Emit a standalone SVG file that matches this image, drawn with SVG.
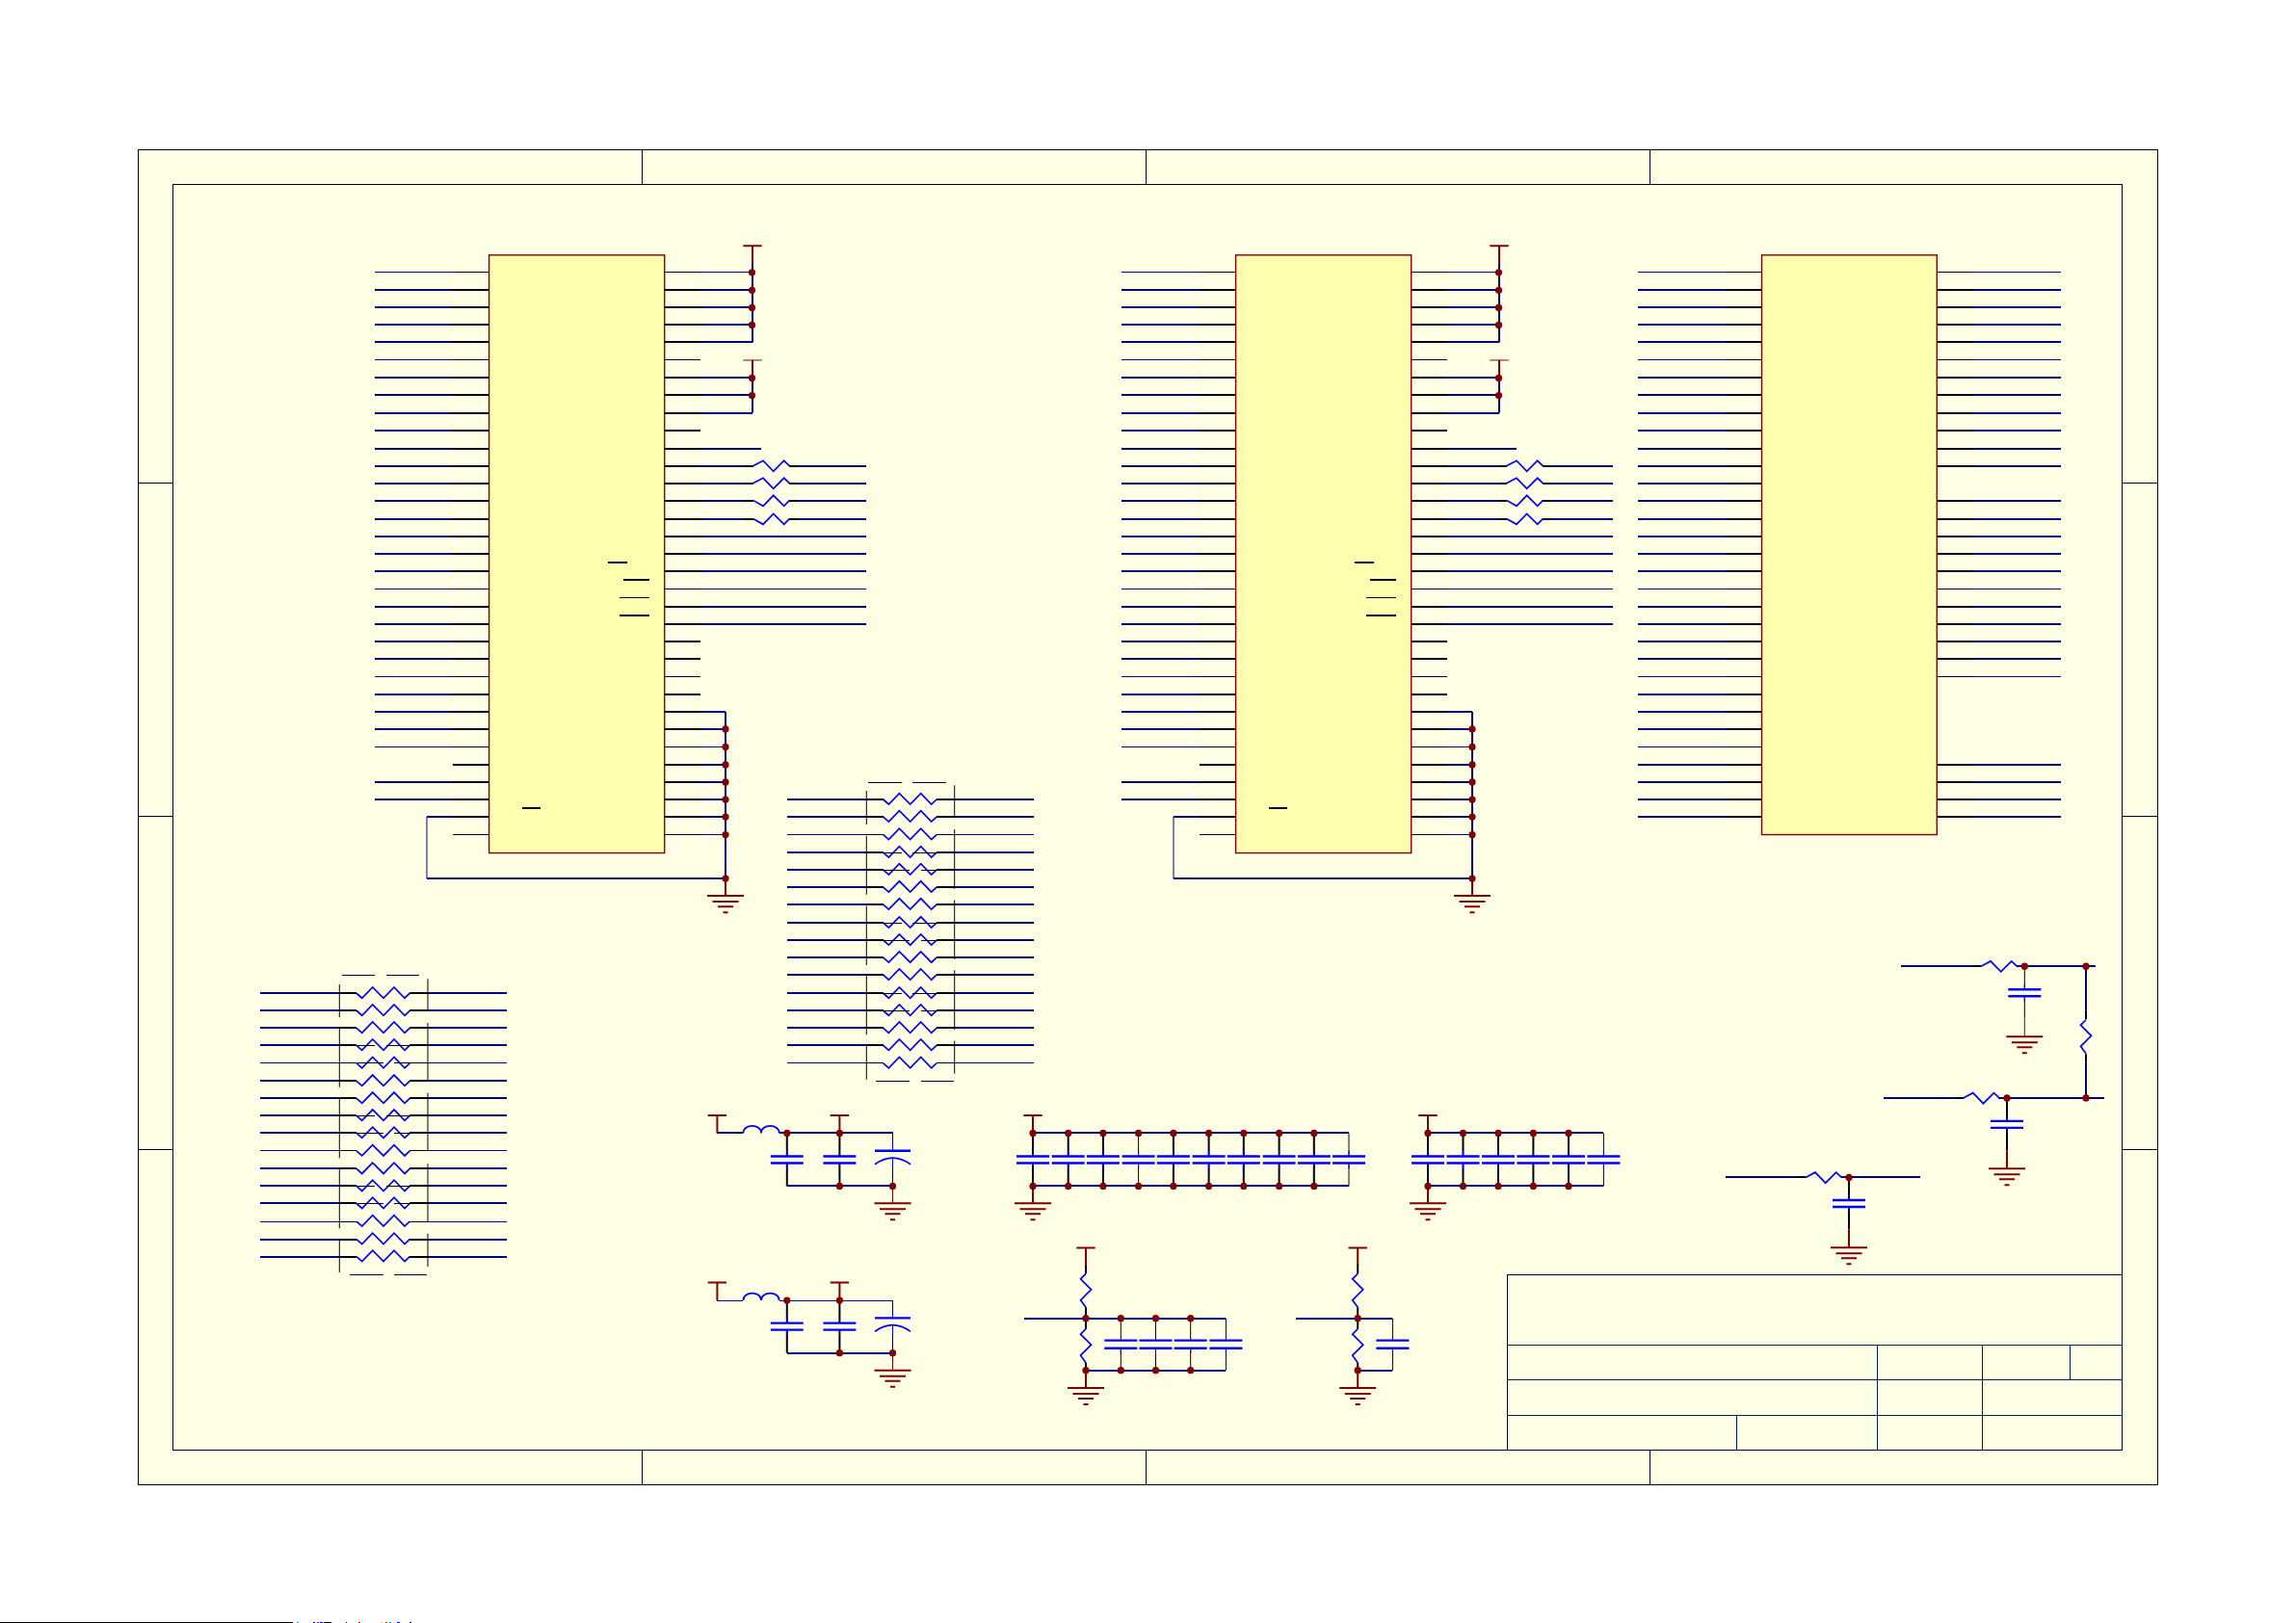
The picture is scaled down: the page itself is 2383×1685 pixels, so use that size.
<svg xmlns="http://www.w3.org/2000/svg" width="2383" height="1685" viewBox="0 0 2383 1685">
<style>
.w,.wt,.p,.pt,.f,.tb{fill:none;shape-rendering:crispEdges}
.w{stroke:#000080;stroke-width:2}
.wt{stroke:#000080;stroke-width:1}
.wv{fill:none;stroke:#000080;stroke-width:2}
.wvt{fill:none;stroke:#000080;stroke-width:1}
.p{stroke:#000;stroke-width:2}
.pt{stroke:#000;stroke-width:1}
.pv{fill:none;stroke:#000;stroke-width:2}
.pvt{fill:none;stroke:#000;stroke-width:1}
.f{stroke:#000;stroke-width:1}
.tb{stroke:#00204a;stroke-width:1}
.r{fill:none;stroke:#800000;stroke-width:2}
.rt{fill:none;stroke:#800000;stroke-width:1}
.z{fill:none;stroke:#0000ff;stroke-width:1.7}
.c{fill:none;stroke:#0000ff;stroke-width:2.4}
.ct{fill:none;stroke:#0000ff;stroke-width:1}
.chip{fill:#ffffb0;stroke:#800000;stroke-width:1.4}
.d{fill:#800000}
</style>
<defs>
<circle id="dot" r="3.6" class="d"/>
<path id="vcc" class="r" d="M-9.7 0H9.7M0 0V18.3"/>
<path id="gnd" class="r" d="M-19 0H19M-13.5 6H13.5M-8 11H8M-2.5 17H2.5"/>
<g id="cap"><path class="c" d="M-17 0H17M-17 7H17"/><path class="ct" stroke-width="2" d="M0 -6V0M0 7V13"/></g>
<g id="cap8"><path class="c" d="M-17 0H17M-17 8H17"/><path class="ct" d="M0 8V14"/></g>
<g id="pol"><path class="c" d="M-18.5 0H18.5"/><path class="z" d="M-18.5 14Q0 0.6 18.5 14"/><path class="ct" d="M0 -9V0M0 7.3V18"/></g>
<path id="ind" class="z" d="M0 0C0 -10 18.6 -10 18.6 0C18.6 -10 37.3 -10 37.3 0"/>
<path id="zu" class="z" d="M0 0L10 -5.3L20.7 5.7L31.7 -5.3L37.3 0"/>
<path id="zd" class="z" d="M0 0L10 5.7L20.7 -5.3L31.7 5.7L37.3 0"/>
<path id="zv" class="z" d="M0 0L-5.5 5.5L5.5 16.5L-5.5 27.5L0 35"/>
<path id="zp" class="z" d="M0 0L5.7 5L16.7 -6.3L28 5L39 -6.3L50 5L55.3 0"/>
<path id="sT" class="p" d="M0 301h37.7M0 319h37.7M0 337h37.7M0 355h37.7M0 392h37.7M0 410h37.7M0 428h37.7M0 446h37.7M0 465h37.7M0 483h37.7M0 501h37.7M0 519h37.7M0 538h37.7M0 556h37.7M0 574h37.7M0 592h37.7M0 629h37.7M0 647h37.7M0 665h37.7M0 683h37.7M0 720h37.7M0 738h37.7M0 756h37.7M0 793h37.7M0 811h37.7M0 829h37.7M0 847h37.7"/>
<path id="st" class="pt" d="M0 282.5h37.7M0 373.5h37.7M0 610.5h37.7M0 701.5h37.7M0 774.5h37.7"/>
<path id="blT" class="w" d="M0 301h81.6M0 319h81.6M0 337h81.6M0 355h81.6M0 392h81.6M0 410h81.6M0 428h81.6M0 446h81.6M0 465h81.6M0 483h81.6M0 501h81.6M0 519h81.6M0 538h81.6M0 556h81.6M0 574h81.6M0 592h81.6M0 629h81.6M0 647h81.6M0 665h81.6M0 683h81.6M0 720h81.6M0 738h81.6M0 756h81.6M0 811h81.6M0 829h81.6"/>
<path id="blt" class="wt" d="M0 282.5h81.6M0 373.5h81.6M0 610.5h81.6M0 701.5h81.6M0 774.5h81.6"/>
<g id="chipA">
<use href="#sT" x="470"/><use href="#st" x="470"/><path class="pt" d="M470 865.5h37.7"/>
<use href="#sT" x="689"/><use href="#st" x="689"/><path class="pt" d="M689 865.5h37.7"/>
<rect class="chip" x="507.6" y="264.5" width="182.1" height="620"/>
<path class="p" d="M631 583H651.4M647 601H674M643 638H674M541.7 838H561"/><path class="pt" d="M643 619.5H674"/>
</g>
<g id="wiresA">
<use href="#blT" x="388.7"/><use href="#blt" x="388.7"/>
<path class="w" d="M443 847H470M443 911H753M725.4 301H781M725.4 319H781M725.4 337H781M725.4 355H781M725.4 392H781M725.4 410H781M725.4 428H781M725.4 738H753M725.4 756H753M725.4 793H753M725.4 811H753M725.4 829H753M725.4 847H753M725.4 556H899.4M725.4 574H899.4M725.4 592H899.4M725.4 629H899.4M725.4 647H899.4"/>
<path class="wt" d="M725.4 282.5H781M725.4 774.5H753M725.4 865.5H753M725.4 610.5H899.4"/>
<path class="wvt" d="M443 847V911"/>
<path class="wv" d="M781 273V355M781 392V428M753 738V911"/>
<path class="r" d="M753 911V929"/>
<use href="#vcc" x="781" y="255"/>
<path class="rt" d="M771.3 373.5H790.7"/><path class="r" d="M781 373.5V392"/>
<use href="#gnd" x="753" y="929"/>
<use href="#dot" x="780.5" y="282.5"/><use href="#dot" x="780.5" y="301"/><use href="#dot" x="780.5" y="319"/><use href="#dot" x="780.5" y="337"/>
<use href="#dot" x="780.5" y="392"/><use href="#dot" x="780.5" y="410"/>
<use href="#dot" x="753" y="756"/><use href="#dot" x="753" y="774.5"/><use href="#dot" x="753" y="793"/><use href="#dot" x="753" y="811"/><use href="#dot" x="753" y="829"/><use href="#dot" x="753" y="847"/><use href="#dot" x="753" y="865.5"/><use href="#dot" x="753" y="911"/>
</g>
<path id="wr" class="w" d="M0 0H82.3M174 0H256"/>
<path id="wrt" class="wt" d="M0 0H82.3M174 0H256"/>
<g id="nr"><path class="p" d="M82.3 0H100M155.3 0H174"/><use href="#zp" x="100"/></g>
<g id="nrt"><path class="pt" d="M82.3 0H100M155.3 0H174"/><use href="#zp" x="100"/></g>
<path id="ia" class="pt" d="M101 0H119M130.7 0H155"/>
<path id="ib" class="pt" d="M101 0H127.7M139 0H155"/>
</defs>
<rect width="2383" height="1685" fill="#fff"/>
<g id="sheet" transform="scale(1 1.0012)">
<g id="frame">
<rect x="143.5" y="155.5" width="2095.5" height="1384" fill="#ffffe6" stroke="#000" stroke-width="1" shape-rendering="crispEdges"/>
<rect class="f" x="179.5" y="191.5" width="2023" height="1312"/>
<path class="f" d="M666.5 155.5V191.5M1189.5 155.5V191.5M1712.5 155.5V191.5M666.5 1503.5V1539.5M1189.5 1503.5V1539.5M1712.5 1503.5V1539.5M143.5 500.5H179.5M143.5 846.5H179.5M143.5 1192.5H179.5M2202.5 500.5H2239M2202.5 846.5H2239M2202.5 1192.5H2239"/>
</g>
<g id="titleblock">
<path class="f" d="M1564.5 1503.5V1321.5H2202.5"/>
<path class="tb" d="M1564.5 1394.5H2202.5M1564.5 1430.5H2202.5M1564.5 1467.5H2202.5M1948.5 1394.5V1503.5M2057.5 1394.5V1503.5M2148.5 1394.5V1430.5M1802.5 1467.5V1503.5"/>
</g>
<g id="connectors">
<use href="#wiresA"/>
<use href="#wiresA" x="775"/>
<g id="chip1-right">
<path class="w" d="M725.4 465H790M725.4 483H771.8M725.4 501H771.8M725.4 519H771.8M725.4 538H771.8M827 483H899.4M827 501H899.4M827 519H899.4M827 538H899.4"/>
<path class="p" d="M771.8 483H782M771.8 501H782M771.8 519H782M771.8 538H782M819 483H827M819 501H827M819 519H827M819 538H827"/>
</g>
<g id="chip2-right">
<path class="w" d="M1500 465H1574M1500 483H1556M1500 501H1556M1500 519H1556M1500 538H1556M1609 483H1674M1609 501H1674M1609 519H1674M1609 538H1674"/>
<path class="p" d="M1556 483H1564M1556 501H1564M1556 519H1564M1556 538H1564M1601 483H1609M1601 501H1609M1601 519H1609M1601 538H1609"/>
</g>
<g id="chip3-wires">
<path class="w" d="M1700 301H1791M1700 319H1791M1700 337H1791M1700 355H1791M1700 392H1791M1700 410H1791M1700 428H1791M1700 446H1791M1700 465H1791M1700 483H1791M1700 501H1791M1700 519H1791M1700 538H1791M1700 556H1791M1700 574H1791M1700 592H1791M1700 629H1791M1700 647H1791M1700 665H1791M1700 683H1791M1700 720H1791M1700 738H1791M1700 756H1791M1700 793H1791M1700 811H1791M1700 829H1791M1700 847H1791M2047.7 301H2138.7M2047.7 319H2138.7M2047.7 337H2138.7M2047.7 355H2138.7M2047.7 392H2138.7M2047.7 410H2138.7M2047.7 428H2138.7M2047.7 446H2138.7M2047.7 465H2138.7M2047.7 483H2138.7M2047.7 519H2138.7M2047.7 538H2138.7M2047.7 556H2138.7M2047.7 574H2138.7M2047.7 592H2138.7M2047.7 629H2138.7M2047.7 647H2138.7M2047.7 665H2138.7M2047.7 683H2138.7M2047.7 793H2138.7M2047.7 811H2138.7M2047.7 829H2138.7M2047.7 847H2138.7"/>
<path class="wt" d="M1700 282.5H1791M1700 373.5H1791M1700 610.5H1791M1700 701.5H1791M1700 774.5H1791M2047.7 282.5H2138.7M2047.7 373.5H2138.7M2047.7 610.5H2138.7M2047.7 701.5H2138.7"/>
</g>
<g id="pack1-wires">
<use href="#wr" x="270" y="1030"/><use href="#wr" x="270" y="1048"/><use href="#wr" x="270" y="1066"/><use href="#wr" x="270" y="1084"/><use href="#wrt" x="270" y="1102.5"/><use href="#wr" x="270" y="1121"/><use href="#wr" x="270" y="1139"/><use href="#wr" x="270" y="1157"/><use href="#wr" x="270" y="1175"/><use href="#wrt" x="270" y="1193.5"/><use href="#wr" x="270" y="1212"/><use href="#wr" x="270" y="1230"/><use href="#wr" x="270" y="1248"/><use href="#wrt" x="270" y="1266.5"/><use href="#wr" x="270" y="1285"/><use href="#wr" x="270" y="1303"/>
</g>
<g id="pack2-wires">
<use href="#wr" x="816.7" y="829"/><use href="#wr" x="816.7" y="847"/><use href="#wrt" x="816.7" y="865.5"/><use href="#wr" x="816.7" y="884"/><use href="#wr" x="816.7" y="902"/><use href="#wr" x="816.7" y="920"/><use href="#wr" x="816.7" y="938"/><use href="#wr" x="816.7" y="957"/><use href="#wr" x="816.7" y="975"/><use href="#wr" x="816.7" y="993"/><use href="#wr" x="816.7" y="1011"/><use href="#wr" x="816.7" y="1030"/><use href="#wr" x="816.7" y="1048"/><use href="#wr" x="816.7" y="1066"/><use href="#wr" x="816.7" y="1084"/><use href="#wrt" x="816.7" y="1102.5"/>
</g>
<g id="lc1-wires">
<path class="w" d="M744.4 1175H765M808.7 1175H926.5M816.8 1230H926.5"/>
<path class="p" d="M765 1175H771.4"/>
<path class="pv" d="M816.8 1175V1199M816.8 1206V1230M871.4 1175V1199M871.4 1206V1230"/>
<path class="pvt" d="M926.5 1175V1193M926.5 1207V1230"/>
<path class="rt" d="M926.5 1230V1247.7"/>
<use href="#dot" x="816.8" y="1175"/><use href="#dot" x="871.4" y="1175"/><use href="#dot" x="871.4" y="1230"/><use href="#dot" x="926.5" y="1230"/>
</g>
<g id="lc2-wires">
<path class="wt" d="M744.4 1348.5H771.4M808.7 1348.5H926.5"/>
<path class="w" d="M816.8 1403H926.5"/>
<path class="pv" d="M816.8 1348.5V1372M816.8 1379V1403M871.4 1348.5V1372M871.4 1379V1403"/>
<path class="pvt" d="M926.5 1348.5V1366M926.5 1380V1403"/>
<path class="rt" d="M926.5 1403V1421"/>
<use href="#dot" x="816.8" y="1348.5"/><use href="#dot" x="871.4" y="1348.5"/><use href="#dot" x="871.4" y="1403"/><use href="#dot" x="926.5" y="1403"/>
</g>
<g id="bank1-wires">
<path class="w" d="M1072 1175H1400M1072 1230H1400"/>
<path class="pv" d="M1072 1175V1199M1072 1206V1230M1108.7 1175V1199M1108.7 1206V1230M1144.9 1175V1199M1144.9 1206V1230M1217.9 1175V1199M1217.9 1206V1230M1254.6 1175V1199M1254.6 1206V1230M1290.8 1175V1199M1290.8 1206V1230M1327.6 1175V1199M1327.6 1206V1230M1363.8 1175V1199M1363.8 1206V1230"/>
<path class="pvt" d="M1181.6 1175V1199M1181.6 1206V1230M1400 1175V1199M1400 1206V1230"/>
<path class="r" d="M1072 1230V1247.7"/>
<use href="#dot" x="1072" y="1175"/><use href="#dot" x="1108.7" y="1175"/><use href="#dot" x="1144.9" y="1175"/><use href="#dot" x="1181.6" y="1175"/><use href="#dot" x="1217.9" y="1175"/><use href="#dot" x="1254.6" y="1175"/><use href="#dot" x="1290.8" y="1175"/><use href="#dot" x="1327.6" y="1175"/><use href="#dot" x="1363.8" y="1175"/>
<use href="#dot" x="1072" y="1230"/><use href="#dot" x="1108.7" y="1230"/><use href="#dot" x="1144.9" y="1230"/><use href="#dot" x="1181.6" y="1230"/><use href="#dot" x="1217.9" y="1230"/><use href="#dot" x="1254.6" y="1230"/><use href="#dot" x="1290.8" y="1230"/><use href="#dot" x="1327.6" y="1230"/><use href="#dot" x="1363.8" y="1230"/>
</g>
<g id="bank2-wires">
<path class="w" d="M1482 1175H1664.4M1482 1230H1664.4"/>
<path class="pv" d="M1482 1175V1199M1482 1206V1230M1518.5 1175V1199M1518.5 1206V1230M1555 1175V1199M1555 1206V1230M1591.4 1175V1199M1591.4 1206V1230M1628 1175V1199M1628 1206V1230"/>
<path class="pvt" d="M1664.4 1175V1199M1664.4 1206V1230"/>
<path class="r" d="M1482 1230V1247.7"/>
<use href="#dot" x="1482" y="1175"/><use href="#dot" x="1518.5" y="1175"/><use href="#dot" x="1555" y="1175"/><use href="#dot" x="1591.4" y="1175"/><use href="#dot" x="1628" y="1175"/>
<use href="#dot" x="1482" y="1230"/><use href="#dot" x="1518.5" y="1230"/><use href="#dot" x="1555" y="1230"/><use href="#dot" x="1591.4" y="1230"/><use href="#dot" x="1628" y="1230"/>
</g>
<g id="divA-wires">
<path class="w" d="M1062.8 1367H1272.4M1127 1421H1272.4"/>
<path class="pvt" d="M1163.3 1367V1390M1163.3 1398V1421M1199.5 1367V1390M1199.5 1398V1421M1235.7 1367V1390M1235.7 1398V1421M1272.4 1367V1390M1272.4 1398V1421"/>
<path class="pv" d="M1127 1310V1320.7M1127 1355.7V1378M1127 1413V1421"/>
<path class="r" d="M1127 1421V1439.3"/>
<use href="#dot" x="1127" y="1367"/><use href="#dot" x="1163.3" y="1367"/><use href="#dot" x="1199.5" y="1367"/><use href="#dot" x="1235.7" y="1367"/>
<use href="#dot" x="1127" y="1421"/><use href="#dot" x="1163.3" y="1421"/><use href="#dot" x="1199.5" y="1421"/><use href="#dot" x="1235.7" y="1421"/>
</g>
<g id="divB-wires">
<path class="w" d="M1345 1367H1445.4M1409.2 1421H1445.4"/>
<path class="pvt" d="M1445.4 1367V1390M1445.4 1398V1421"/>
<path class="pv" d="M1409.2 1310V1320.7M1409.2 1355.7V1378M1409.2 1413V1421"/>
<path class="r" d="M1409.2 1421V1439.3"/>
<use href="#dot" x="1409.2" y="1367"/><use href="#dot" x="1409.2" y="1421"/>
</g>
<g id="rc-wires">
<path class="w" d="M1973.3 1002H2047.5M2092.7 1002H2175M1955 1138.6H2029.5M2074.3 1138.6H2184M1791 1221H1865.7M1910.7 1221H1992.7"/>
<path class="p" d="M2047.5 1002H2056M2029.5 1138.6H2037.7M1865.7 1221H1874"/>
<path class="wv" d="M2165 1002V1047.5M2165 1101V1138.6"/>
<path class="pv" d="M2165 1047.5V1057M2165 1093V1101M2083 1138.6V1162.5M2083 1170V1193M1919 1221V1244.3M1919 1251.8V1275"/>
<path class="pvt" d="M2101.3 1002V1026M2101.3 1033V1056.4"/>
<path class="rt" d="M2101.3 1056.4V1075"/>
<path class="r" d="M2083 1193V1211.8M1919 1275V1293.6"/>
<use href="#dot" x="2101.3" y="1002"/><use href="#dot" x="2165" y="1002"/><use href="#dot" x="2083" y="1138.6"/><use href="#dot" x="2165" y="1138.6"/><use href="#dot" x="1919" y="1221"/>
</g>
</g>
<g id="U1"><use href="#chipA"/></g>
<g id="U2"><use href="#chipA" x="775"/></g>
<g id="U3">
<use href="#sT" x="1791"/><use href="#st" x="1791"/>
<path class="p" d="M2010.3 301H2047.7M2010.3 319H2047.7M2010.3 337H2047.7M2010.3 355H2047.7M2010.3 392H2047.7M2010.3 410H2047.7M2010.3 428H2047.7M2010.3 446H2047.7M2010.3 465H2047.7M2010.3 483H2047.7M2010.3 519H2047.7M2010.3 538H2047.7M2010.3 556H2047.7M2010.3 574H2047.7M2010.3 592H2047.7M2010.3 629H2047.7M2010.3 647H2047.7M2010.3 665H2047.7M2010.3 683H2047.7M2010.3 793H2047.7M2010.3 811H2047.7M2010.3 829H2047.7M2010.3 847H2047.7"/>
<path class="pt" d="M2010.3 282.5H2047.7M2010.3 373.5H2047.7M2010.3 610.5H2047.7M2010.3 701.5H2047.7"/>
<rect class="chip" x="1828.5" y="264.5" width="181.8" height="601"/>
</g>
<g id="R-chip1"><use href="#zu" x="782" y="483"/><use href="#zu" x="782" y="501"/><use href="#zd" x="782" y="519"/><use href="#zd" x="782" y="538"/></g>
<g id="R-chip2"><use href="#zu" x="1564" y="483"/><use href="#zu" x="1564" y="501"/><use href="#zd" x="1564" y="519"/><use href="#zd" x="1564" y="538"/></g>
<g id="RP1">
<use href="#nr" x="270" y="1030"/><use href="#nr" x="270" y="1048"/><use href="#nr" x="270" y="1066"/><use href="#nr" x="270" y="1084"/><use href="#nrt" x="270" y="1102.5"/><use href="#nr" x="270" y="1121"/><use href="#nr" x="270" y="1139"/><use href="#nr" x="270" y="1157"/><use href="#nr" x="270" y="1175"/><use href="#nrt" x="270" y="1193.5"/><use href="#nr" x="270" y="1212"/><use href="#nr" x="270" y="1230"/><use href="#nr" x="270" y="1248"/><use href="#nrt" x="270" y="1266.5"/><use href="#nr" x="270" y="1285"/><use href="#nr" x="270" y="1303"/>
<use href="#ia" x="270" y="1084"/><use href="#ib" x="270" y="1102.5"/><use href="#ia" x="270" y="1157"/><use href="#ib" x="270" y="1175"/><use href="#ia" x="270" y="1230"/><use href="#ib" x="270" y="1248"/>
<path class="pvt" d="M352.3 1020.7V1055M352.3 1066V1127.3M352.3 1139V1200.7M352.3 1212V1273.7M352.3 1285V1319.3M444 1015V1048M444 1060.7V1121M444 1133.3V1193.3M444 1206.7V1266.7M444 1279.3V1313.3"/>
<path class="pt" d="M355 1011.5H389M400.7 1011.5H435M363.3 1321.5H397.7M409 1321.5H443.3"/>
</g>
<g id="RP2">
<use href="#nr" x="816.7" y="829"/><use href="#nr" x="816.7" y="847"/><use href="#nrt" x="816.7" y="865.5"/><use href="#nr" x="816.7" y="884"/><use href="#nr" x="816.7" y="902"/><use href="#nr" x="816.7" y="920"/><use href="#nr" x="816.7" y="938"/><use href="#nr" x="816.7" y="957"/><use href="#nr" x="816.7" y="975"/><use href="#nr" x="816.7" y="993"/><use href="#nr" x="816.7" y="1011"/><use href="#nr" x="816.7" y="1030"/><use href="#nr" x="816.7" y="1048"/><use href="#nr" x="816.7" y="1066"/><use href="#nr" x="816.7" y="1084"/><use href="#nrt" x="816.7" y="1102.5"/>
<use href="#ia" x="816.7" y="884"/><use href="#ib" x="816.7" y="902"/><use href="#ia" x="816.7" y="957"/><use href="#ib" x="816.7" y="975"/><use href="#ia" x="816.7" y="1030"/><use href="#ib" x="816.7" y="1048"/>
<path class="pvt" d="M899.3 820V855M899.3 866.7V927.7M899.3 939.3V1000.7M899.3 1011V1073M899.3 1084V1119.3M990.7 814.3V848.3M990.7 860V921.7M990.7 933.3V994.7M990.7 1006V1067.7M990.7 1079.3V1113.3"/>
<path class="pt" d="M901 811.5H936M947 811.5H982M909.3 1121.5H944M955.7 1121.5H990"/>
</g>
<g id="LC1">
<use href="#vcc" x="744.4" y="1156.7"/><use href="#vcc" x="871.4" y="1156.7"/>
<use href="#ind" x="771.4" y="1175"/>
<use href="#cap" x="816.8" y="1199"/><use href="#cap" x="871.4" y="1199"/><use href="#pol" x="926.5" y="1193.3"/>
<use href="#gnd" x="926.5" y="1247.7"/>
</g>
<g id="LC2">
<use href="#vcc" x="744.4" y="1330"/><use href="#vcc" x="871.4" y="1330"/>
<use href="#ind" x="771.4" y="1348.5"/>
<use href="#cap" x="816.8" y="1372"/><use href="#cap" x="871.4" y="1372"/><use href="#pol" x="926.5" y="1366.7"/>
<use href="#gnd" x="926.5" y="1421"/>
</g>
<g id="BANK1">
<use href="#vcc" x="1072" y="1156.7"/>
<use href="#cap" x="1072" y="1199"/><use href="#cap" x="1108.7" y="1199"/><use href="#cap" x="1144.9" y="1199"/><use href="#cap" x="1181.6" y="1199"/><use href="#cap" x="1217.9" y="1199"/><use href="#cap" x="1254.6" y="1199"/><use href="#cap" x="1290.8" y="1199"/><use href="#cap" x="1327.6" y="1199"/><use href="#cap" x="1363.8" y="1199"/><use href="#cap" x="1400" y="1199"/>
<use href="#gnd" x="1072" y="1247.7"/>
</g>
<g id="BANK2">
<use href="#vcc" x="1482" y="1156.7"/>
<use href="#cap" x="1482" y="1199"/><use href="#cap" x="1518.5" y="1199"/><use href="#cap" x="1555" y="1199"/><use href="#cap" x="1591.4" y="1199"/><use href="#cap" x="1628" y="1199"/><use href="#cap" x="1664.4" y="1199"/>
<use href="#gnd" x="1482" y="1247.7"/>
</g>
<g id="DIVA">
<use href="#vcc" x="1127" y="1294"/>
<use href="#zv" x="1127" y="1320.7"/><use href="#zv" x="1127" y="1378"/>
<use href="#cap8" x="1163.3" y="1390"/><use href="#cap8" x="1199.5" y="1390"/><use href="#cap8" x="1235.7" y="1390"/><use href="#cap8" x="1272.4" y="1390"/>
<use href="#gnd" x="1127" y="1439.3"/>
</g>
<g id="DIVB">
<use href="#vcc" x="1409.2" y="1294"/>
<use href="#zv" x="1409.2" y="1320.7"/><use href="#zv" x="1409.2" y="1378"/>
<use href="#cap8" x="1445.4" y="1390"/>
<use href="#gnd" x="1409.2" y="1439.3"/>
</g>
<g id="RC1">
<use href="#zu" x="2056" y="1002"/><use href="#zv" x="2165" y="1057.5"/>
<use href="#cap" x="2101.3" y="1026"/><use href="#gnd" x="2101.3" y="1075"/>
</g>
<g id="RC2">
<use href="#zu" x="2037.7" y="1138.6"/>
<use href="#cap" x="2083" y="1162.5"/><use href="#gnd" x="2083" y="1211.8"/>
</g>
<g id="RC3">
<use href="#zu" x="1874" y="1221"/>
<use href="#cap" x="1919" y="1244.5"/><use href="#gnd" x="1919" y="1293.6"/>
</g>
</g>
<g id="page-edge" shape-rendering="crispEdges">
<rect x="0" y="1684" width="304" height="1" fill="#000"/>
<rect x="308" y="1684" width="2" height="1" fill="#0aa"/><rect x="325" y="1684" width="2" height="1" fill="#00f"/><rect x="329" y="1684" width="2" height="1" fill="#c0c"/><rect x="332" y="1684" width="3" height="1" fill="#00f"/><rect x="336" y="1684" width="8" height="1" fill="#000"/><rect x="359" y="1684" width="1" height="1" fill="#000"/><rect x="372" y="1684" width="2" height="1" fill="#f00"/><rect x="395" y="1684" width="2" height="1" fill="#dd0"/><rect x="400" y="1684" width="2" height="1" fill="#e33"/><rect x="404" y="1684" width="2" height="1" fill="#0cc"/><rect x="412" y="1684" width="3" height="1" fill="#00d"/><rect x="425" y="1684" width="2" height="1" fill="#00d"/>
</g>
</svg>
